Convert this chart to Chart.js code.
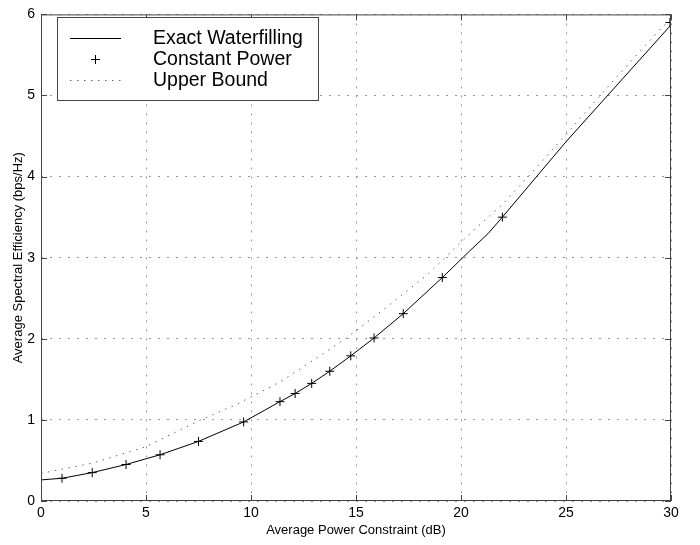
<!DOCTYPE html>
<html>
<head>
<meta charset="utf-8">
<script src="https://cdn.jsdelivr.net/npm/chart.js@4.4.1/dist/chart.umd.min.js"></script>
<style>
  html, body { margin: 0; padding: 0; background: #fff; }
</style>
</head>
<body>
<canvas id="chart" width="700" height="545"></canvas>
<script>
// Exact Waterfilling (solid line)
const wfX = [0, 1.0, 2.44, 4.05, 5.67, 7.5, 9.65, 11.38, 12.1, 12.89, 13.75, 14.75, 15.86, 17.25, 19.11, 20.4, 21.3, 21.97, 25.0, 30.0];
const wfY = [0.26, 0.28, 0.35, 0.45, 0.57, 0.735, 0.975, 1.225, 1.325, 1.45, 1.60, 1.79, 2.01, 2.31, 2.755, 3.08, 3.30, 3.50, 4.43, 5.87];

// Constant Power (+ markers)
const cpX = [1.0, 2.44, 4.05, 5.67, 7.5, 9.65, 11.38, 12.1, 12.89, 13.75, 14.75, 15.86, 17.25, 19.11, 21.97, 29.95];
const cpY = [0.28, 0.35, 0.45, 0.57, 0.735, 0.975, 1.225, 1.325, 1.45, 1.60, 1.79, 2.01, 2.31, 2.755, 3.50, 5.90];

// Upper Bound (dotted line)
const ubX = [0, 2.5, 5.0, 7.6, 9.3, 11.4, 13.4, 14.6, 16.5, 18.4, 19.4, 20.4, 21.9, 23.2, 24.8, 27.0, 29.6, 30.0];
const ubY = [0.34, 0.47, 0.67, 1.0, 1.19, 1.47, 1.81, 2.02, 2.40, 2.79, 3.04, 3.29, 3.64, 4.0, 4.46, 5.11, 5.85, 5.92];

const xTicks = [0, 5, 10, 15, 20, 25, 30];
const yTicks = [0, 1, 2, 3, 4, 5, 6];

const legendLabels = ["Exact Waterfilling", "Constant Power", "Upper Bound"];

const pts = (xs, ys) => xs.map((x, i) => ({ x: x, y: ys[i] }));

const FONT = "'Liberation Sans', Arial, Helvetica, sans-serif";

// cadre, petites graduations intérieures et légende
const boxPlugin = {
  id: 'boxPlugin',
  afterDraw(chart) {
    const ctx = chart.ctx;
    const a = chart.chartArea;
    const xs = chart.scales.x, ys = chart.scales.y;
    ctx.save();
    ctx.strokeStyle = '#444';
    ctx.lineWidth = 1;
    ctx.setLineDash([]);
    ctx.strokeRect(a.left + 0.5, a.top + 0.5, a.right - a.left - 1, a.bottom - a.top - 1);
    const tl = 6;
    ctx.beginPath();
    xTicks.forEach(v => {
      const px = Math.round(xs.getPixelForValue(v)) + 0.5;
      ctx.moveTo(px, a.bottom); ctx.lineTo(px, a.bottom - tl);
      ctx.moveTo(px, a.top); ctx.lineTo(px, a.top + tl);
    });
    yTicks.forEach(v => {
      const py = Math.round(ys.getPixelForValue(v)) + 0.5;
      ctx.moveTo(a.left, py); ctx.lineTo(a.left + tl, py);
      ctx.moveTo(a.right, py); ctx.lineTo(a.right - tl, py);
    });
    ctx.stroke();

    // légende
    const lx = 57.5, ly = 17.5, lw = 261, lh = 83;
    ctx.fillStyle = '#fff';
    ctx.fillRect(lx, ly, lw, lh);
    ctx.strokeStyle = '#444';
    ctx.strokeRect(lx, ly, lw, lh);
    const rows = [38, 59, 80];
    ctx.strokeStyle = '#000';
    ctx.beginPath();
    ctx.moveTo(70, rows[0] + 0.5); ctx.lineTo(121, rows[0] + 0.5);
    ctx.stroke();
    ctx.beginPath();
    ctx.moveTo(91, rows[1] + 0.5); ctx.lineTo(100, rows[1] + 0.5);
    ctx.moveTo(95.5, rows[1] - 4); ctx.lineTo(95.5, rows[1] + 5);
    ctx.stroke();
    ctx.strokeStyle = '#666';
    ctx.setLineDash([1.5, 5.5]);
    ctx.beginPath();
    ctx.moveTo(70, rows[2] + 0.5); ctx.lineTo(121, rows[2] + 0.5);
    ctx.stroke();
    ctx.setLineDash([]);
    ctx.fillStyle = '#000';
    ctx.font = "19.5px " + FONT;
    ctx.textBaseline = 'middle';
    ctx.textAlign = 'left';
    legendLabels.forEach((t, i) => ctx.fillText(t, 153, rows[i] + 1));
    ctx.restore();
  }
};

const ctx = document.getElementById("chart").getContext("2d");

const myChart = new Chart(ctx, {
  type: 'scatter',
  data: {
    datasets: [
      {
        label: legendLabels[0],
        data: pts(wfX, wfY),
        showLine: true,
        borderColor: '#000',
        borderWidth: 1,
        pointRadius: 0,
        tension: 0
      },
      {
        label: legendLabels[1],
        data: pts(cpX, cpY),
        showLine: false,
        pointStyle: 'cross',
        pointRadius: 4.5,
        pointBorderColor: '#000',
        pointBorderWidth: 1,
        pointBackgroundColor: '#000'
      },
      {
        label: legendLabels[2],
        data: pts(ubX, ubY),
        showLine: true,
        borderColor: '#666',
        borderWidth: 1,
        borderDash: [1.5, 5.5],
        pointRadius: 0,
        tension: 0
      }
    ]
  },
  plugins: [boxPlugin],
  options: {
    responsive: false,
    animation: false,
    layout: { padding: { top: 7, right: 29, left: 0, bottom: 0 } },
    plugins: {
      legend: { display: false },
      tooltip: { enabled: false }
    },
    scales: {
      x: {
        type: 'linear',
        min: 0, max: 30,
        afterFit: s => { s.height = 44; },
        afterBuildTicks: s => { s.ticks = xTicks.map(v => ({ value: v })); },
        ticks: { color: '#000', font: { family: FONT, size: 14 }, padding: 4, maxRotation: 0, autoSkip: false },
        grid: { color: '#999', drawTicks: false },
        border: { display: false, dash: [2, 7] },
        title: {
          display: true,
          text: 'Average Power Constraint (dB)',
          color: '#000',
          font: { family: FONT, size: 13 },
          padding: { top: 0, bottom: 7 }
        }
      },
      y: {
        type: 'linear',
        min: 0, max: 6,
        afterFit: s => { s.width = 41; },
        afterBuildTicks: s => { s.ticks = yTicks.map(v => ({ value: v })); },
        ticks: { color: '#000', font: { family: FONT, size: 14 }, padding: 6, autoSkip: false },
        grid: { color: '#999', drawTicks: false },
        border: { display: false, dash: [2, 7] },
        title: {
          display: true,
          text: 'Average Spectral Efficiency (bps/Hz)',
          color: '#000',
          font: { family: FONT, size: 13 },
          padding: { top: 11, bottom: 0 }
        }
      }
    }
  }
});
</script>
</body>
</html>
